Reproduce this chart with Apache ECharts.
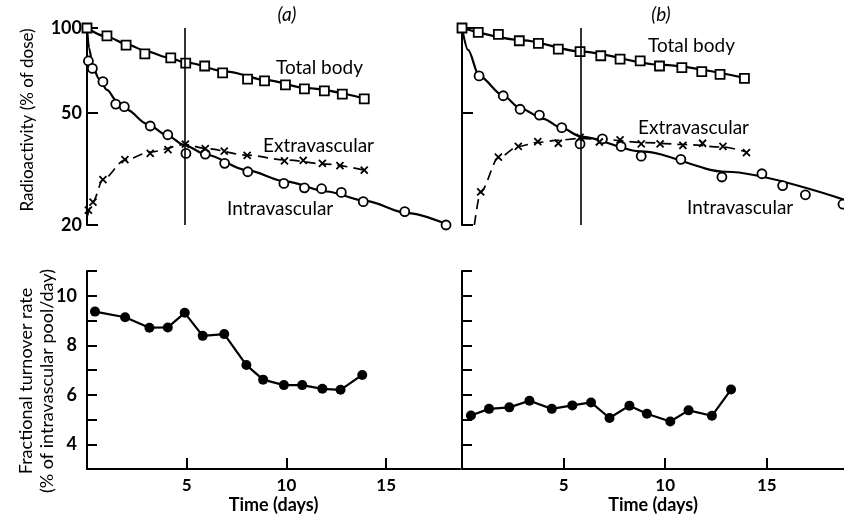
<!DOCTYPE html>
<html>
<head>
<meta charset="utf-8">
<title>Radioactivity and turnover</title>
<script src="https://cdn.jsdelivr.net/npm/echarts@6/dist/echarts.min.js"></script>
<style>
  html, body { margin: 0; padding: 0; background: #fff; }
  #main { width: 844px; height: 516px; }
</style>
</head>
<body>
<div id="main"></div>
<script>
// ---- data: [day, value] ----
// (a) top panel, radioactivity (% of dose)
var totalA = [[0,100],[1.0,93.7],[1.96,87.0],[2.9,80.9],[4.2,78.3],[4.95,75.1],[5.9,73.3],[6.8,69.3],[8.05,65.9],[8.9,64.9],[9.95,62.8],[10.9,60.8],[11.9,59.8],[12.8,58.3],[13.9,56.0]];
var totalFitA = [[0,100],[1,93.1],[2,87.5],[3,82.6],[4,78.7],[5,75.3],[7,70],[9,65.3],[11,61.2],[14,56]];
var intraA = [[0.07,76.4],[0.27,71.9],[0.8,64.5],[1.44,53.7],[1.87,52.6],[3.17,44.9],[4.05,41.8],[4.96,35.9],[5.93,35.7],[6.9,33.1],[8.06,30.9],[9.87,28.1],[10.9,27.1],[11.76,26.9],[12.75,26.1],[13.85,24.2],[15.93,22.3],[18.0,20]];
var intraFitA = [[0,100],[0.1,85.1],[0.3,72.4],[0.6,66.1],[1,60.3],[1.5,55],[2,51.3],[3,45.7],[4,41.7],[4.85,38.5],[6,35.5],[8,31.3],[10,28.5],[12,26.3],[14,24.3],[16,22.1],[18,20.2]];
var extraA = [[0.07,22.6],[0.3,24.1],[0.8,29.0],[1.9,34.1],[3.17,35.9],[4.06,37.0],[4.93,38.7],[5.93,37.3],[6.88,36.6],[8.03,35.3],[9.9,33.8],[10.84,33.9],[11.8,33.1],[12.68,32.5],[13.9,31.3]];
var extraFitA = [[0,21.3],[0.3,24.2],[0.8,29],[1.9,34],[3.17,36.3],[4.93,38.6],[6,37.3],[8,35.4],[10,34],[12,32.9],[13.9,31.3]];
var markA = 4.9;

// (b) top panel
var totalB = [[0,100],[0.8,96.5],[1.79,95.0],[2.82,90.1],[3.76,88.2],[4.74,84.2],[5.81,82.4],[6.83,79.7],[7.78,77.6],[8.77,76.4],[9.72,73.3],[10.82,72.3],[11.8,70.0],[12.7,68.5],[13.9,66.3]];
var totalFitB = [[0,100],[3,90.4],[5.8,82.6],[9.7,74.2],[13.9,66.5]];
var intraB = [[0.84,67.6],[2.03,57.5],[2.86,51.5],[3.81,49.1],[4.91,44.3],[5.81,38.8],[6.91,40.4],[7.83,38.0],[8.82,35.1],[10.77,34.2],[12.79,29.6],[14.76,30.4],[15.78,27.6],[16.9,25.6],[18.75,23.7]];
var intraFitB = [[0,100],[0.3,83.6],[0.84,67.6],[2.03,57.5],[2.86,52],[4,47.6],[4.9,44.2],[5.85,41.2],[8.8,36.5],[13,30.9],[18.8,24.6]];
var extraB = [[0.92,26.2],[1.79,34.8],[2.77,38.0],[3.73,39.5],[4.74,39.0],[5.81,40.9],[6.76,39.4],[7.78,40.1],[8.82,38.8],[9.75,38.8],[10.87,38.3],[11.84,39.0],[12.84,38.0],[14.0,36.1]];
var extraFitB = [[0.61,20],[0.92,26.2],[1.79,34.6],[2.77,38],[3.76,39.3],[4.78,40],[5.85,40.6],[7,40.2],[9,39.2],[11,38.6],[12.84,37.8],[14,36.3]];
var markB = 5.85;

// bottom panels, fractional turnover rate (% of intravascular pool/day)
var turnA = [[0.4,9.36],[1.91,9.13],[3.13,8.71],[4.05,8.72],[4.9,9.31],[5.8,8.38],[6.88,8.45],[7.99,7.2],[8.83,6.61],[9.87,6.39],[10.79,6.39],[11.8,6.24],[12.71,6.2],[13.8,6.8]];
var turnB = [[0.44,5.16],[1.33,5.43],[2.33,5.49],[3.32,5.76],[4.42,5.43],[5.43,5.57],[6.35,5.69],[7.26,5.06],[8.24,5.56],[9.1,5.23],[10.25,4.92],[11.15,5.37],[12.3,5.15],[13.24,6.21]];

var timeTicks = [5, 10, 15];
var radioTicks = [20, 50, 100];
var turnLabels = [4, 6, 8, 10];

var FONT = 'Lato';
var crossSym = 'path://M0,0L10,10M10,0L0,10';

var chart = echarts.init(document.getElementById('main'));

function xAx(grid, bottom, max) {
  var ax = {
    type: 'value', gridIndex: grid, min: 0, max: max,
    splitLine: { show: false }
  };
  if (!bottom) {
    ax.axisLine = { show: false };
    ax.axisTick = { show: false };
    ax.axisLabel = { show: false };
  } else {
    ax.axisLine = { onZero: false, lineStyle: { color: '#000', width: 2 } };
    ax.axisTick = { inside: true, length: 11, customValues: timeTicks, lineStyle: { color: '#000', width: 2 } };
    ax.axisLabel = { customValues: timeTicks, color: '#000', fontFamily: FONT, fontSize: 17, fontWeight: 'bold', margin: 8 };
    ax.name = 'Time (days)';
    ax.nameLocation = 'middle';
    ax.nameGap = 27;
    ax.nameTextStyle = { color: '#000', fontFamily: FONT, fontSize: 18, fontWeight: 'bold' };
  }
  return ax;
}

function radioAx(grid, labels) {
  return {
    type: 'log', logBase: 10, gridIndex: grid, min: 20, max: 100,
    splitLine: { show: false },
    axisLine: { lineStyle: { color: '#000', width: 2 } },
    axisTick: { inside: true, length: 11, customValues: radioTicks, lineStyle: { color: '#000', width: 2 } },
    axisLabel: { show: labels, customValues: radioTicks, align: 'right', color: '#000', fontFamily: FONT, fontSize: 18, fontWeight: 'bold', margin: 5 }
  };
}

function turnAx(grid, labels) {
  return {
    type: 'value', gridIndex: grid, min: 3, max: 11, interval: 1,
    splitLine: { show: false },
    axisLine: { onZero: false, lineStyle: { color: '#000', width: 2 } },
    axisTick: { inside: true, length: 10, lineStyle: { color: '#000', width: 2 } },
    axisLabel: { show: labels, customValues: turnLabels, color: '#000', fontFamily: FONT, fontSize: 18, fontWeight: 'bold', margin: 10 }
  };
}

function fit(data, ax, dashed, mark) {
  var s = {
    type: 'line', xAxisIndex: ax, yAxisIndex: ax, data: data,
    smooth: 0.3, smoothMonotone: 'x', symbol: 'none', silent: true,
    lineStyle: { color: '#000', width: dashed ? 1.7 : 2.2, type: dashed ? [10, 6] : 'solid' },
    z: 2
  };
  if (mark != null) {
    s.markLine = {
      silent: true, symbol: 'none', label: { show: false },
      lineStyle: { color: '#000', width: 1.6, type: 'solid' },
      data: [{ xAxis: mark }]
    };
  }
  return s;
}

function pts(data, ax, sym, size) {
  var cross = sym === crossSym;
  return {
    type: 'scatter', xAxisIndex: ax, yAxisIndex: ax, data: data,
    symbol: sym, symbolSize: size, silent: true,
    itemStyle: { color: cross ? 'none' : '#fff', borderColor: '#000', borderWidth: 1.8, opacity: 1 },
    z: 3
  };
}

function turn(data, ax) {
  return {
    type: 'line', xAxisIndex: ax, yAxisIndex: ax, data: data,
    symbol: 'circle', symbolSize: 10, showAllSymbol: true, silent: true,
    lineStyle: { color: '#000', width: 2.2 },
    itemStyle: { color: '#000', borderWidth: 0 }
  };
}

function txt(s, x, y, extra) {
  var st = { text: s, fill: '#000', fontFamily: FONT, fontSize: 19, verticalAlign: 'middle' };
  for (var k in extra) st[k] = extra[k];
  return { type: 'text', x: x, y: y, style: st };
}

var option = {
  backgroundColor: '#fff',
  animation: false,
  grid: [
    { left: 87, top: 28, width: 373, height: 197 },
    { left: 462, top: 28, width: 382, height: 197 },
    { left: 87, top: 271, width: 373, height: 198 },
    { left: 462, top: 271, width: 382, height: 198 }
  ],
  xAxis: [xAx(0, false, 18.7), xAx(1, false, 18.8), xAx(2, true, 18.7), xAx(3, true, 18.8)],
  yAxis: [radioAx(0, true), radioAx(1, false), turnAx(2, true), turnAx(3, false)],
  series: [
    fit(totalFitA, 0, false, markA), pts(totalA, 0, 'rect', 9),
    fit(intraFitA, 0, false), pts(intraA, 0, 'circle', 9),
    fit(extraFitA, 0, true), pts(extraA, 0, crossSym, 7),
    fit(totalFitB, 1, false, markB), pts(totalB, 1, 'rect', 9),
    fit(intraFitB, 1, false), pts(intraB, 1, 'circle', 9),
    fit(extraFitB, 1, true), pts(extraB, 1, crossSym, 7),
    turn(turnA, 2), turn(turnB, 3)
  ],
  graphic: [
    txt('(a)', 287, 15, { align: 'center', fontStyle: 'italic' }),
    txt('(b)', 661, 15, { align: 'center', fontStyle: 'italic' }),
    txt('Total body', 276, 68),
    txt('Extravascular', 263, 146),
    txt('Intravascular', 227, 209),
    txt('Total body', 648, 46),
    txt('Extravascular', 638, 128),
    txt('Intravascular', 687, 208),
    { type: 'text', x: 28, y: 120, rotation: Math.PI / 2,
      style: { text: 'Radioactivity (% of dose)', fill: '#000', fontFamily: FONT, fontSize: 17, align: 'center', verticalAlign: 'middle' } },
    { type: 'text', x: 37, y: 381, rotation: Math.PI / 2,
      style: { text: 'Fractional turnover rate\n(% of intravascular pool/day)', fill: '#000', fontFamily: FONT, fontSize: 18, lineHeight: 21, align: 'center', verticalAlign: 'middle' } }
  ]
};

chart.setOption(option);
</script>
</body>
</html>
